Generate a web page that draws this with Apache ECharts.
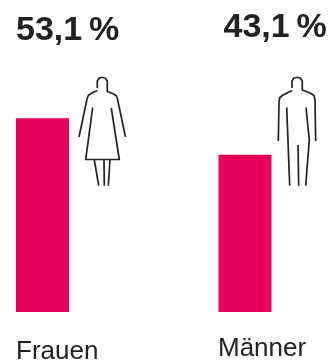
<!DOCTYPE html>
<html><head><meta charset="utf-8">
<style>html,body{margin:0;padding:0;background:#fff}#c{width:330px;height:360px}</style>
<script src="https://cdn.jsdelivr.net/npm/echarts@6/dist/echarts.min.js"></script>
</head><body><div id="c"></div>
<script>
const categories = ['Frauen', 'Männer'];
const values = [53.1, 43.1];
const valueLabels = ['53,1\u2009%', '43,1\u2009%'];

const ink = '#222222';
const womanLines = [
  [[97.3,88],[97.3,81],[99,78.3],[102,77.3],[105.3,78.3],[107.3,81],[107.3,91.5],[113.5,94],[116.3,95.8],[117.5,99],[125.5,137]],
  [[97.3,90.5],[91,93.5],[88.3,95.5],[87,99],[79,137]],
  [[92.7,107.5],[85.7,159.5],[119.3,159.5],[111.3,108]],
  [[94.3,160],[98.7,185.7]],
  [[104,160],[104.3,185.7]],
  [[110,160],[108.3,185.7]]
];
const manLines = [
  [[292,88],[292,81],[293.7,78.3],[297,77.3],[300.5,78.3],[302.3,81],[302.3,90],[311,93.5],[314,95.5],[315,100],[315.7,141]],
  [[292,90.5],[283,95],[279.8,97.5],[279,102],[278.3,141]],
  [[286.7,107.5],[289.7,185.7]],
  [[306,107.5],[309.3,140],[305.7,185.7]],
  [[298,145],[298.7,185.7]]
];
const iconLine = pts => ({type: 'polyline', shape: {points: pts}, style: {fill: 'none', stroke: ink, lineWidth: 1.7}});

const chart = echarts.init(document.getElementById('c'), null, {renderer: 'canvas'});
chart.setOption({
  animation: false,
  grid: {left: -58.75, width: 405, top: 20, height: 292, outerBoundsMode: 'none'},
  xAxis: {type: 'category', data: categories, show: false},
  yAxis: {type: 'value', min: 0, max: 80, show: false},
  series: [{
    type: 'bar',
    barWidth: 53,
    itemStyle: {color: '#E6005A'},
    data: values.map((v, i) => ({
      value: v,
      label: {
        show: true,
        position: i === 0 ? [0, -105] : [5, -144],
        formatter: valueLabels[i],
        fontFamily: 'Liberation Sans',
        fontWeight: 'bold',
        fontSize: 34,
        color: ink
      }
    }))
  }],
  graphic: [
    {type: 'text', left: 16, top: 339, style: {text: categories[0], font: '26px "Liberation Sans"', fill: ink}},
    {type: 'text', left: 218, top: 336, style: {text: categories[1], font: '26px "Liberation Sans"', fill: ink}}
  ].concat(womanLines.map(iconLine), manLines.map(iconLine))
});
</script></body></html>
